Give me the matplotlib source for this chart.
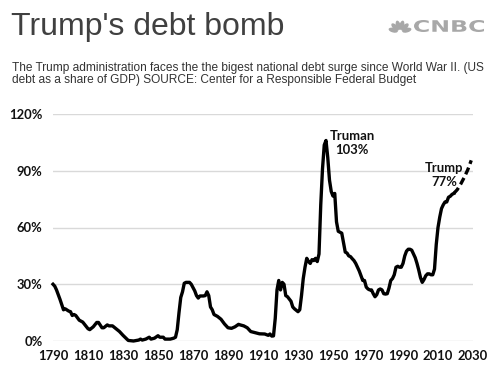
import numpy as np
import matplotlib
matplotlib.use("Agg")
import matplotlib.pyplot as plt
from matplotlib.textpath import TextPath
from matplotlib.font_manager import FontProperties
from matplotlib.patches import PathPatch, Ellipse
from matplotlib.transforms import Affine2D

# ---- data (US debt as share of GDP, %) ----
years = [1790, 1791, 1792, 1794, 1796, 1797, 1799, 1800, 1801, 1802, 1803, 1805,
         1807, 1810, 1811, 1813, 1815, 1816, 1818, 1819, 1821, 1822, 1824, 1826,
         1828, 1830, 1833, 1836, 1839, 1840, 1841, 1843, 1845, 1846, 1848, 1850,
         1851, 1853, 1854, 1857, 1859, 1860, 1861, 1862, 1863, 1864, 1865, 1866,
         1868, 1869, 1871, 1872, 1873, 1874, 1876, 1877, 1878, 1879, 1880, 1881,
         1882, 1884, 1886, 1888, 1890, 1892, 1894, 1896, 1897, 1899, 1901, 1903,
         1905, 1908, 1911, 1913, 1914, 1915, 1916, 1917, 1918, 1919, 1920, 1921,
         1922, 1923, 1924, 1926, 1927, 1928, 1930, 1931, 1932, 1933, 1934, 1935,
         1936, 1937, 1938, 1939, 1940, 1941, 1942, 1943, 1944, 1945, 1946, 1947,
         1948, 1949, 1950, 1951, 1952, 1953, 1954, 1955, 1956, 1957, 1958, 1959,
         1960, 1961, 1962, 1963, 1964, 1965, 1966, 1967, 1968, 1969, 1970, 1971,
         1972, 1973, 1974, 1975, 1976, 1977, 1978, 1979, 1980, 1981, 1982, 1983,
         1984, 1985, 1986, 1987, 1988, 1989, 1990, 1991, 1992, 1993, 1994, 1995,
         1996, 1997, 1998, 1999, 2000, 2001, 2002, 2003, 2004, 2005, 2006, 2007,
         2008, 2009, 2010, 2011, 2012, 2013, 2014, 2015, 2016, 2017, 2018, 2019]
debt = [30, 29, 27, 22, 16.5, 17, 15.8, 15.5, 13.5, 14, 13.5, 11,
        10, 6.5, 6, 7.5, 9.8, 9.8, 7, 7, 8.5, 8, 8, 6.5,
        5, 3, 0.3, 0, 0.5, 1, 0.5, 1, 2, 1, 1.5, 2.8,
        2, 2, 1, 1, 1.5, 2, 6, 15, 23, 26, 30.5, 31,
        31, 30, 26.5, 24, 22.7, 23.8, 23.8, 24, 26, 24, 18, 16.5,
        14, 13, 11.5, 9, 7, 6.7, 7.5, 8.8, 8.5, 8, 7, 5,
        4.5, 3.8, 3.7, 3, 3.7, 2.6, 2.7, 12, 27, 32, 27, 31,
        30, 24, 23.4, 21, 18, 17, 15.5, 16.5, 24, 33, 39, 43.7,
        42, 41, 43, 42.5, 43.7, 42, 46, 72, 91, 103.6, 106, 97,
        85, 79, 76.6, 78, 63, 58, 57.5, 57, 52, 47, 46.5, 45,
        44.6, 43.5, 42.5, 41, 39, 37, 34.5, 32, 32, 28.5, 27.5, 27,
        27, 25, 23.4, 24.5, 27, 27.5, 27, 25, 24.8, 25, 28, 32,
        33, 35, 39, 39.5, 39, 39, 41, 45, 47.5, 48.5, 48.5, 48,
        46, 44, 41, 37.5, 33.5, 31, 32.5, 34.5, 35.5, 35.5, 35, 35,
        38, 51, 60, 65.5, 70, 72, 73.5, 73.5, 76, 76.5, 77.5, 78]

proj_years = [2019, 2021, 2023, 2025, 2027, 2029]
proj_debt = [78, 80, 83, 86.5, 90.5, 95.5]

yticks = [0, 30, 60, 90, 120]
xticks = list(range(1790, 2031, 20))

W, H = 496, 391
fig = plt.figure(figsize=(W / 100, H / 100), dpi=100)

# main chart area (pixel box: x 53..473, y 114..341)
ax = fig.add_axes([53 / W, (H - 341) / H, 420 / W, 227 / H])
ax.plot(years, debt, color='black', lw=2.4, solid_joinstyle='round', clip_on=False)
ax.plot(proj_years, proj_debt, color='black', lw=2.4, dashes=(2.2, 1.2), clip_on=False)

ax.set_xlim(1790, 2030)
ax.set_ylim(0, 120)
ax.set_yticks(yticks)
ax.set_yticklabels([f'{v}%' for v in yticks])
ax.set_xticks(xticks)
ax.grid(axis='y', color='#d9d9d9', lw=1)
ax.set_axisbelow(True)
for s in ax.spines.values():
    s.set_visible(False)
tick_font = dict(family='Lato', weight='bold', size=9.4)
ax.tick_params(axis='both', length=0, colors='#111111')
ax.tick_params(axis='y', pad=7.5)
ax.tick_params(axis='x', pad=6.5)
for lab in ax.get_xticklabels() + ax.get_yticklabels():
    lab.set_fontproperties(FontProperties(**tick_font))

ax.text(1961, 104.5, 'Truman\n103%', ha='center', va='center', linespacing=1.2,
        color='#111111', **tick_font)
ax.text(2013.5, 87.5, 'Trump\n77%', ha='center', va='center', linespacing=1.2,
        color='#111111', **tick_font)

# overlay for titles and logo, in pixel coords
ov = fig.add_axes([0, 0, 1, 1])
ov.set_xlim(0, W)
ov.set_ylim(H, 0)
ov.axis('off')
ov.patch.set_visible(False)

ov.text(11, 35, "Trump's debt bomb", fontsize=23, family='Liberation Sans',
        color='#404040', va='baseline', ha='left')
ov.text(12, 71.5, 'The Trump administration faces the the bigest national debt surge since World War II. (US',
        fontsize=8.55, family='Liberation Sans', color='#333333', va='baseline', ha='left')
ov.text(12, 83.3, 'debt as a share of GDP) SOURCE: Center for a Responsible Federal Budget',
        fontsize=8.55, family='Liberation Sans', color='#333333', va='baseline', ha='left')

# CNBC logo
logo_grey = '#a8a8a8'
tp = TextPath((0, 0), 'CNBC', size=1, prop=FontProperties(family='DejaVu Sans', weight='bold'))
bb = tp.get_extents()
tr = (Affine2D().translate(-bb.x0, -bb.y0)
      .scale(70 / bb.width, -12 / bb.height)
      .translate(414, 32))
ov.add_patch(PathPatch(tr.transform_path(tp), color=logo_grey, lw=0))
cx, cy = 400, 32
for i in range(6):
    ang = np.radians(15 + 30 * i)
    ov.add_patch(Ellipse((cx + 7 * np.cos(ang), cy - 7 * np.sin(ang)), 9.5, 4.6,
                         angle=-np.degrees(ang), color=logo_grey, lw=0))

fig.savefig('out.png', dpi=100)
